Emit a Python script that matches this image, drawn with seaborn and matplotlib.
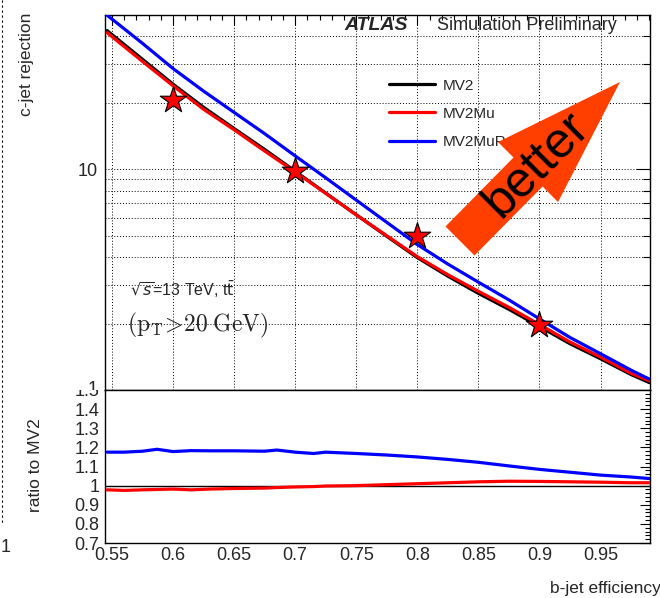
import matplotlib
matplotlib.use("Agg")
import matplotlib.pyplot as plt
import seaborn as sns
import pandas as pd
from matplotlib.patches import Polygon
from matplotlib.lines import Line2D
from matplotlib.transforms import Bbox, TransformedBbox
from matplotlib.ticker import FixedLocator, NullFormatter, FixedFormatter

# ---------------- data ----------------
eff = [0.546, 0.575, 0.60, 0.625, 0.65, 0.675, 0.70, 0.725, 0.75, 0.775,
       0.80, 0.825, 0.85, 0.875, 0.90, 0.925, 0.95, 0.975, 0.99]
rej_mv2 = [42.5, 31.5, 24.3, 19.1, 15.3, 12.3, 9.8, 7.8, 6.22, 4.97,
           3.98, 3.28, 2.74, 2.32, 1.94, 1.62, 1.385, 1.175, 1.08]
rej_mv2mu = [41.6, 30.8, 23.9, 18.7, 15.1, 12.1, 9.73, 7.78, 6.22, 5.0,
             4.02, 3.33, 2.80, 2.37, 1.98, 1.65, 1.41, 1.19, 1.10]
rej_mv2murnn = [49.9, 37.2, 28.6, 22.6, 18.1, 14.5, 11.5, 9.15, 7.25, 5.75,
                4.56, 3.72, 3.08, 2.56, 2.10, 1.73, 1.46, 1.23, 1.12]

ratio_eff = [0.546, 0.56, 0.575, 0.587, 0.60, 0.615, 0.63, 0.65, 0.675, 0.685,
             0.70, 0.715, 0.725, 0.75, 0.775, 0.80, 0.825, 0.85, 0.875, 0.90,
             0.925, 0.95, 0.975, 0.99]
ratio_mv2murnn = [1.175, 1.175, 1.18, 1.19, 1.178, 1.183, 1.182, 1.182, 1.18, 1.186,
                  1.175, 1.168, 1.175, 1.168, 1.16, 1.15, 1.137, 1.122, 1.103, 1.085,
                  1.07, 1.055, 1.045, 1.037]
ratio_mv2mu = [0.978, 0.975, 0.978, 0.98, 0.982, 0.978, 0.982, 0.985, 0.987, 0.99,
               0.993, 0.995, 0.998, 1.0, 1.005, 1.01, 1.015, 1.02, 1.023, 1.022,
               1.02, 1.018, 1.015, 1.015]

wp_eff = [0.6, 0.7, 0.8, 0.9]
wp_rej = [20.7, 9.8, 5.0, 1.98]

series_names = ["MV2", "MV2Mu", "MV2MuRnn"]
series_colors = ["#000000", "#ff0000", "#0000ff"]

x_ticks = [0.55, 0.6, 0.65, 0.7, 0.75, 0.8, 0.85, 0.9, 0.95]
x_ticklabels = ["0.55", "0.6", "0.65", "0.7", "0.75", "0.8", "0.85", "0.9", "0.95"]
r_ticks = [0.7, 0.8, 0.9, 1.0, 1.1, 1.2, 1.3, 1.4]
r_ticklabels = ["0.7", "0.8", "0.9", "1", "1.1", "1.2", "1.3", "1.4"]

# ---------------- style ----------------
sns.set_style("white")
plt.rcParams["font.family"] = ["Liberation Sans", "DejaVu Sans"]
plt.rcParams["axes.linewidth"] = 1.0
plt.rcParams["axes.edgecolor"] = "black"

W, H = 660, 598
fig = plt.figure(figsize=(W / 100, H / 100), dpi=100)


def rect(l, t, r, b):
    return [l / W, 1 - b / H, (r - l) / W, (b - t) / H]


ax = fig.add_axes(rect(105, 15, 650, 390))
axr = fig.add_axes(rect(105, 390, 650, 543))

# ---------------- top panel ----------------
top_df = pd.DataFrame({
    "eff": eff * 3,
    "rej": rej_mv2 + rej_mv2mu + rej_mv2murnn,
    "tagger": [series_names[0]] * len(eff) + [series_names[1]] * len(eff) + [series_names[2]] * len(eff),
})
sns.lineplot(data=top_df, x="eff", y="rej", hue="tagger", palette=series_colors,
             hue_order=series_names, estimator=None, sort=False, lw=2.3, ax=ax,
             legend=False, zorder=3)
sns.scatterplot(x=wp_eff, y=wp_rej, marker="*", s=400, color="#ff0000",
                edgecolor="black", linewidth=0.8, ax=ax, zorder=5, legend=False)

ax.set_yscale("log")
ax.set_xlim(0.5443, 0.9905)
ax.set_ylim(1.0, 50.0)
ax.set_xlabel("")
ax.set_ylabel("")

ax.xaxis.set_major_locator(FixedLocator(x_ticks))
ax.xaxis.set_minor_locator(FixedLocator([0.55 + 0.01 * i for i in range(45)]))
ax.xaxis.set_major_formatter(NullFormatter())
ax.yaxis.set_major_locator(FixedLocator([10]))
ax.yaxis.set_major_formatter(FixedFormatter(["10"]))
ax.yaxis.set_minor_locator(FixedLocator([2, 3, 4, 5, 6, 7, 8, 9, 20, 30, 40]))
ax.yaxis.set_minor_formatter(NullFormatter())
ax.tick_params(axis="both", which="both", direction="in", top=True, right=True,
               width=0.8, color="black")
ax.tick_params(axis="x", which="major", length=7)
ax.tick_params(axis="x", which="minor", length=3.5)
ax.tick_params(axis="y", which="major", length=10, labelsize=13, pad=5)
ax.tick_params(axis="y", which="minor", length=5)

ax.grid(True, axis="x", which="major", color="black", lw=0.7, ls=(0, (1, 2)))
ax.grid(True, axis="y", which="both", color="black", lw=0.7, ls=(0, (1, 2)))
ax.set_axisbelow(True)

# legend
handles = [Line2D([], [], color=c, lw=2.3) for c in series_colors]
leg = ax.legend(handles, series_names, loc="upper left", bbox_to_anchor=(0.521, 0.830),
                frameon=False, fontsize=11, handlelength=3.0, handletextpad=0.55,
                labelspacing=0.92, borderpad=0, borderaxespad=0)
leg.set_zorder(4)

# ATLAS label
ax.text(0.440, 0.972, "ATLAS", transform=ax.transAxes, fontsize=14,
        fontweight="bold", fontstyle="italic", ha="left", va="center", zorder=6)
ax.text(0.609, 0.972, "Simulation Preliminary", transform=ax.transAxes,
        fontsize=13, ha="left", va="center", zorder=6)

ax.text(0.046, 0.267, r"$\sqrt{s}$=13 TeV, t$\bar{\rm t}$", transform=ax.transAxes,
        fontsize=11.5, ha="left", va="center", math_fontfamily="dejavusans", zorder=6)
ax.text(0.040, 0.171, r"$(\mathrm{p_T}\!>\!20\;\mathrm{GeV})$", transform=ax.transAxes,
        fontsize=17, ha="left", va="center", math_fontfamily="cm", zorder=6)

# "better" arrow
arrow_pts = [(0.6248, 0.436), (0.7495, 0.620), (0.7211, 0.6613), (0.945, 0.8213),
             (0.8312, 0.5013), (0.8028, 0.5427), (0.678, 0.3587)]
ax.add_patch(Polygon(arrow_pts, closed=True, transform=ax.transAxes,
                     facecolor="#ff3f00", edgecolor="none", zorder=7, clip_on=False))
ax.text(0.7927, 0.60, "better", transform=ax.transAxes, rotation=45,
        rotation_mode="anchor", ha="center", va="center", fontsize=36,
        color="black", zorder=8)

# ---------------- ratio panel ----------------
ratio_df = pd.DataFrame({
    "eff": ratio_eff * 2,
    "ratio": ratio_mv2mu + ratio_mv2murnn,
    "tagger": [series_names[1]] * len(ratio_eff) + [series_names[2]] * len(ratio_eff),
})
axr.axhline(1.0, color="black", lw=1.0, zorder=2)
sns.lineplot(data=ratio_df, x="eff", y="ratio", hue="tagger",
             palette=series_colors[1:], hue_order=series_names[1:],
             estimator=None, sort=False, lw=2.3, ax=axr, legend=False, zorder=3)
axr.set_xlim(0.5443, 0.9905)
axr.set_ylim(0.7, 1.5)
axr.set_xlabel("")
axr.set_ylabel("")
axr.xaxis.set_major_locator(FixedLocator(x_ticks))
axr.xaxis.set_major_formatter(FixedFormatter(x_ticklabels))
axr.xaxis.set_minor_locator(FixedLocator([0.55 + 0.01 * i for i in range(45)]))
axr.yaxis.set_major_locator(FixedLocator(r_ticks))
axr.yaxis.set_major_formatter(FixedFormatter(r_ticklabels))
axr.yaxis.set_minor_locator(FixedLocator([0.7 + 0.02 * i for i in range(41)]))
axr.tick_params(axis="both", which="both", direction="in", top=False, right=True,
                width=0.8, color="black")
axr.tick_params(axis="x", which="major", length=7, labelsize=13, pad=3)
axr.tick_params(axis="x", which="minor", length=3.5)
axr.tick_params(axis="y", which="major", length=7, labelsize=13, pad=4)
axr.tick_params(axis="y", which="minor", length=3.5)

# clipped overlapping labels at the pad boundary ("1" of the top pad, "1.5" of the ratio pad)
top_clip = TransformedBbox(Bbox([[0, 1 - 390 / H], [1, 1]]), fig.transFigure)
bot_clip = TransformedBbox(Bbox([[0, 0], [1, 1 - 390 / H]]), fig.transFigure)
t1 = fig.text(98 / W, 1 - 390 / H, "1", ha="right", va="center", fontsize=13)
t1.set_clip_box(top_clip)
t1.set_clip_on(True)
t15 = fig.text(100 / W, 1 - 391 / H, "1.5", ha="right", va="center", fontsize=13)
t15.set_clip_box(bot_clip)
t15.set_clip_on(True)

# axis titles
fig.text(27 / W, 1 - 13 / H, "c-jet rejection", rotation=90, ha="center", va="top",
         fontsize=12.5)
fig.text(35 / W, 1 - 465 / H, "ratio to MV2", rotation=90, ha="center", va="center",
         fontsize=12.5)
fig.text(661 / W, 1 - 589 / H, "b-jet efficiency", ha="right", va="center",
         fontsize=12.5)

# remnant of the neighbouring plot at the left edge
fig.add_artist(Line2D([1.5 / W, 1.5 / W], [1.0, 1 - 523 / H], transform=fig.transFigure,
                      color="black", lw=0.8, ls=(0, (2, 2.5))))
fig.text(0.5 / W, 1 - 548 / H, "1", ha="left", va="center", fontsize=13)

fig.savefig("out.png", dpi=100)
